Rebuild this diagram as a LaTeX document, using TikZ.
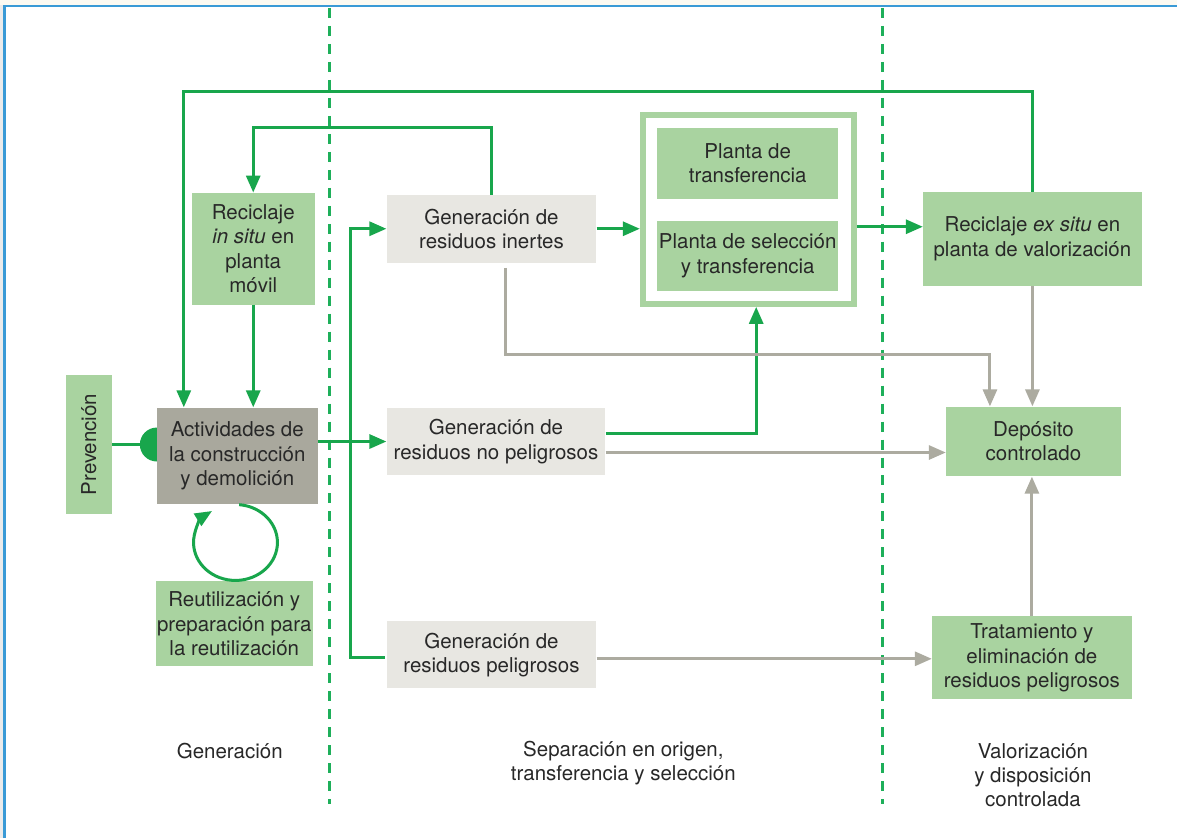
\documentclass[tikz,border=0pt]{standalone}
\usepackage{fontspec}
\setmainfont{TeX Gyre Heros}
\usetikzlibrary{arrows.meta}

\definecolor{boxgreen}{RGB}{169,211,160}
\definecolor{boxgray}{RGB}{232,231,226}
\definecolor{boxdark}{RGB}{169,168,157}
\definecolor{flowgreen}{RGB}{24,166,76}
\definecolor{flowgray}{RGB}{172,171,160}
\definecolor{sepgreen}{RGB}{30,175,90}
\definecolor{inktext}{RGB}{40,40,40}
\definecolor{framblue}{RGB}{58,154,214}
\definecolor{creamstrip}{RGB}{252,250,242}

\tikzset{
  every node/.style={font=\fontsize{20.5}{24.3}\selectfont, text=inktext, align=center, inner sep=0pt},
  greenbox/.style={fill=boxgreen},
  graybox/.style={fill=boxgray},
  darkbox/.style={fill=boxdark},
  gline/.style={draw=flowgreen, line width=3pt},
  garr/.style={gline, -{Triangle[length=17pt,width=14pt]}},
  yline/.style={draw=flowgray, line width=3pt},
  yarr/.style={yline, -{Triangle[length=17pt,width=14pt]}},
  divider/.style={draw=sepgreen, line width=3pt, dash pattern=on 10pt off 8pt},
}

\begin{document}
\begin{tikzpicture}[x=1pt,y=1pt]
  % page frame
  \fill[white] (0,0) rectangle (1178,839);
  \fill[creamstrip] (0,834) rectangle (1178,839);
  \fill[black!8] (0,0) rectangle (3,834);
  \draw[framblue, line width=2.5pt] (4.5,0) -- (4.5,833) -- (1178,833);
  \useasboundingbox (0,0) rectangle (1178,839);

  % stage dividers
  \draw[divider] (330,831) -- (330,34);
  \draw[divider] (883,831) -- (883,34);

  % stopper disc on the activity box
  \node[circle, fill=flowgreen, minimum size=34pt] (stop) at (157,394) {};

  % generation column
  \node[greenbox, minimum width=46pt, minimum height=140pt] (prev) at (89,394) {};
  \node[rotate=90] at (prev.center) {Prevención};
  \node[darkbox, minimum width=161pt, minimum height=97pt] (act) at (237.5,382.5)
    {Actividades de\\la construcción\\y demolición};
  \node[greenbox, minimum width=123pt, minimum height=112pt] (recin) at (253.5,590)
    {Reciclaje\\\textit{in situ} en\\planta\\móvil};
  \node[greenbox, minimum width=157pt, minimum height=85pt] (reut) at (234.5,214.5)
    {Reutilización y\\preparación para\\la reutilización};

  % separation column
  \node[graybox, minimum width=210pt, minimum height=68pt] (gin) at (492,610)
    {Generación de\\residuos inertes};
  \node[graybox, minimum width=219pt, minimum height=68pt] (gnp) at (496.5,397)
    {Generación de\\residuos no peligrosos};
  \node[graybox, minimum width=210pt, minimum height=67pt] (gp) at (492,183.5)
    {Generación de\\residuos peligrosos};
  \node[draw=boxgreen, line width=6pt, minimum width=211pt, minimum height=189pt] (plantas) at (749,629.3) {};
  \node[greenbox, minimum width=181pt, minimum height=71pt] (ptr) at (748.5,675.5)
    {Planta de\\transferencia};
  \node[greenbox, minimum width=181pt, minimum height=70pt] (psel) at (748.5,583)
    {Planta de selección\\y transferencia};

  % final column
  \node[greenbox, minimum width=219pt, minimum height=94pt] (rex) at (1033.5,600)
    {Reciclaje \textit{ex situ} en\\planta de valorización};
  \node[greenbox, minimum width=175pt, minimum height=70pt] (dep) at (1034.5,397)
    {Depósito\\controlado};
  \node[greenbox, minimum width=200pt, minimum height=83pt] (trat) at (1033,180.5)
    {Tratamiento y\\eliminación de\\residuos peligrosos};

  % stage captions
  \node (capgen) at (230,87) {Generación};
  \node (capsep) at (624,75) {Separación en origen,\\transferencia y selección};
  \node (capval) at (1034,63) {Valorización\\y disposición\\controlada};

  % helper points for routed connectors
  \coordinate (toploop) at (184,747);
  \coordinate (recloop) at (0,711);
  \coordinate (trunk) at (351,397);
  \coordinate (gpin) at (385,181.3);
  \coordinate (gnpup) at ([yshift=8pt]gnp.east);
  \coordinate (upcol) at (757,0);
  \coordinate (gnpout) at ([yshift=-11pt]gnp.east);
  \coordinate (ginout) at ([xshift=14pt,yshift=-5pt]gin.south);
  \coordinate (inertrow) at (0,484);
  \coordinate (depin) at ([xshift=-43.5pt]dep.north);
  \coordinate (gpout) at ([yshift=-4pt]gp.east);
  \coordinate (plrow) at (0,612);

  % green flows
  \draw[garr] (rex.north) |- (toploop) -- (toploop |- act.north);
  \draw[garr] (gin.north) |- (recin.north |- recloop) -- (recin.north);
  \draw[garr] (recin.south) -- (recin.south |- act.north);
  \draw[gline] (prev.east) -- (stop);
  \draw[garr] (act.east |- gnp.west) -- (gnp.west);
  \draw[garr] (trunk) |- (gin.west);
  \draw[gline] (trunk) |- (gpin);
  \draw[garr] (gin.east) -- (gin.east -| plantas.west);
  \draw[garr] (plantas.east |- plrow) -- (rex.west |- plrow);
  \draw[garr] (gnpup) -| (upcol |- plantas.south);

  % loop of reuse
  \draw[garr] (239.4,333.8) arc[start angle=85, end angle=-236, x radius=42, y radius=38];

  % grey flows
  \draw[yarr] (gnpout) -- (gnpout -| dep.west);
  \draw[yarr] (ginout) |- (depin |- inertrow) -- (depin);
  \draw[yarr] (rex.south) -- (rex.south |- dep.north);
  \draw[yarr] (trat.north) -- (trat.north |- dep.south);
  \draw[yarr] (gpout) -- (gpout -| trat.west);
\end{tikzpicture}
\end{document}
